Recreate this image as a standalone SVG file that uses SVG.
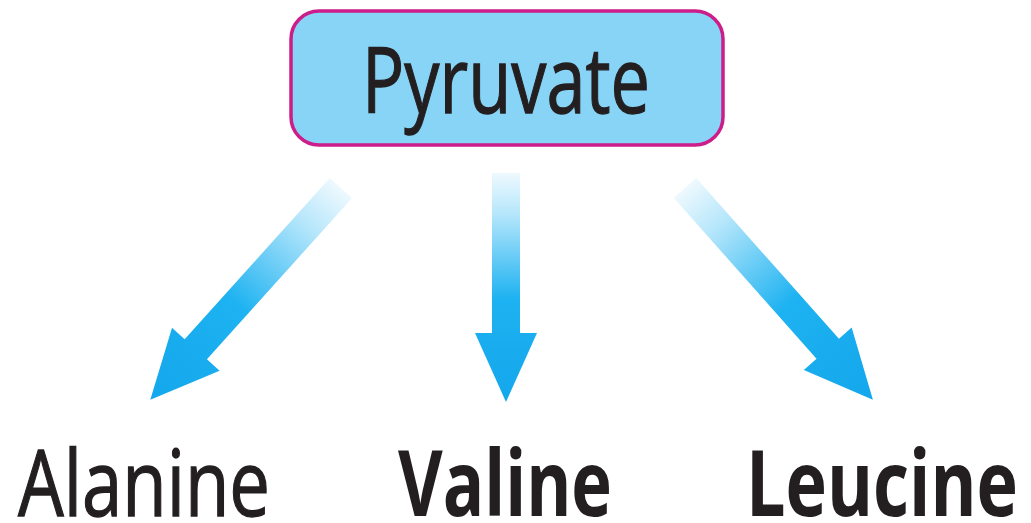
<svg xmlns="http://www.w3.org/2000/svg" width="1031" height="523" viewBox="0 0 1031 523">
<defs>
<linearGradient id="ag" x1="0" y1="0" x2="0" y2="1">
<stop offset="0" stop-color="#eef9fe"/>
<stop offset="0.18" stop-color="#b5e6fb"/>
<stop offset="0.55" stop-color="#1db2f1"/>
<stop offset="1" stop-color="#14a7ec"/>
</linearGradient>
<style>
.t{font-family:"Open Sans","Liberation Sans",sans-serif;fill:#231f20;}
.reg{stroke:#231f20;stroke-width:1.3;}
.arrow{fill:url(#ag);}
</style>
</defs>
<rect width="1031" height="523" fill="#ffffff"/>
<g id="pyruvate">
<rect x="291" y="11" width="432" height="134" rx="28" ry="28" fill="#88d4f7" stroke="#cc1d8a" stroke-width="3.5"/>
<text class="t reg" x="362" y="113" font-size="92" textLength="288" lengthAdjust="spacingAndGlyphs">Pyruvate</text>
</g>
<g id="connectors">
<path class="arrow" transform="translate(341,188) rotate(42)" d="M-15,0 L15,0 L15,217 L32,217 L0,285 L-32,217 L-15,217 Z"/>
<path class="arrow" transform="translate(506,173)" d="M-14,0 L14,0 L14,160 L31,160 L0,229 L-31,160 L-14,160 Z"/>
<path class="arrow" transform="translate(685,188) rotate(-41.6)" d="M-15,0 L15,0 L15,215 L32,215 L0,283 L-32,215 L-15,215 Z"/>
</g>
<g id="alanine">
<text class="t reg" x="18" y="516" font-size="91" textLength="252" lengthAdjust="spacingAndGlyphs">Alanine</text>
</g>
<g id="valine">
<text class="t" x="398" y="516" font-size="91" font-weight="bold" textLength="214" lengthAdjust="spacingAndGlyphs">Valine</text>
</g>
<g id="leucine">
<text class="t" x="746" y="516" font-size="91" font-weight="bold" textLength="272" lengthAdjust="spacingAndGlyphs">Leucine</text>
</g>
</svg>
